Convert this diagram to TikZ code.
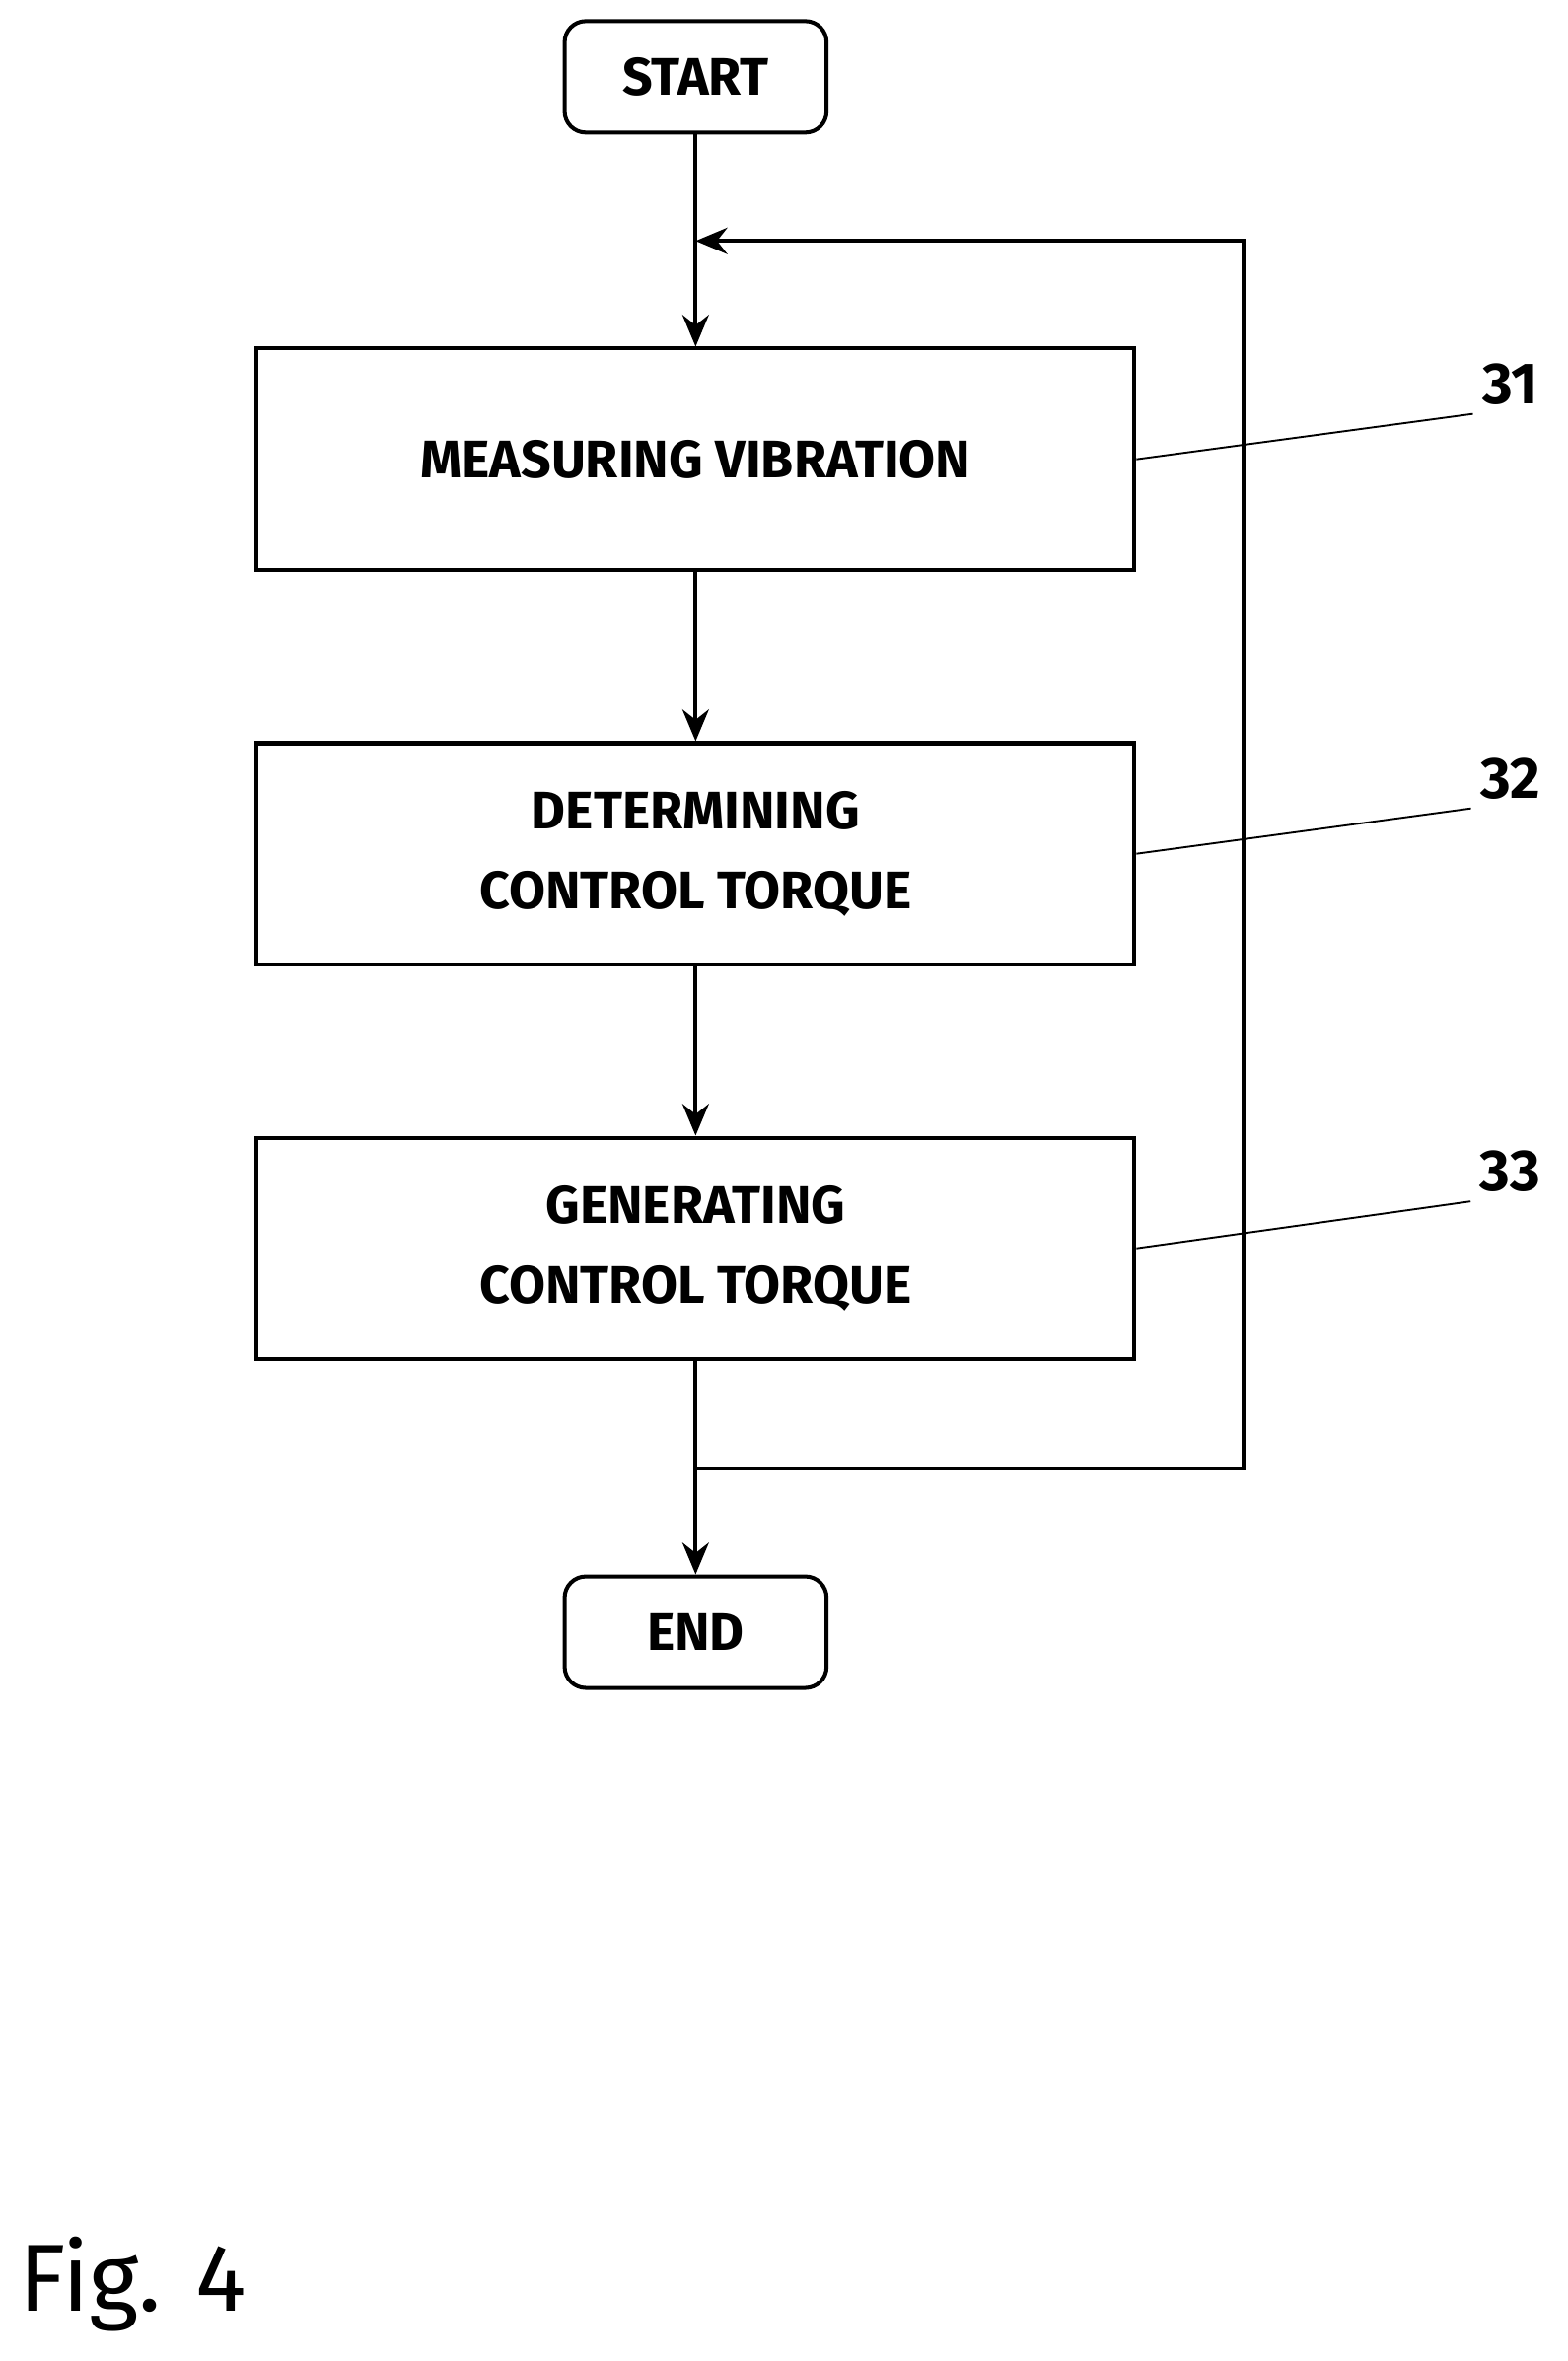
\documentclass[tikz,border=0pt]{standalone}
\usepackage{fontspec}
\setmainfont{Fira Sans}
\usetikzlibrary{arrows.meta,positioning}
\tikzset{
  stepbox/.style={draw,line width=1.5pt,minimum width=11.66cm,minimum height=2.94cm,align=center,font=\fontsize{20}{30}\selectfont\bfseries},
  term/.style={draw,line width=1.5pt,rounded corners=8pt,minimum width=3.48cm,minimum height=1.48cm,font=\fontsize{20}{24}\selectfont\bfseries},
  flow/.style={line width=1.5pt,-{Stealth[length=12pt,width=10pt]}},
  lead/.style={line width=0.7pt},
  refnum/.style={font=\fontsize{22}{24}\selectfont\bfseries}
}
\begin{document}
\begin{tikzpicture}[x=0.02cm,y=-0.02cm]
\useasboundingbox (0,0) rectangle (1041,1568);
\node [term] (start) at (462,51) {START};
\node [stepbox] (measure) at (462,305) {MEASURING VIBRATION};
\node [stepbox] (determine) at (462,567) {DETERMINING\\CONTROL TORQUE};
\node [stepbox] (generate) at (462,829) {GENERATING\\CONTROL TORQUE};
\node [term] (end) at (462,1084) {END};
\coordinate (join) at (462,160);
\coordinate (split) at (462,975);
\draw [line width=1.5pt] (start) -- (join);
\draw [flow] (join) -- (measure);
\draw [flow] (measure) -- (determine);
\draw [flow] (determine) -- (generate);
\draw [line width=1.5pt] (generate) -- (split);
\draw [flow] (split) -- (end);
\draw [flow] (split) -- (826,975) -- (826,160) -- (join);
% reference numerals
\node [refnum] (n31) at (1003,255) {31};
\node [refnum] (n32) at (1003,517) {32};
\node [refnum] (n33) at (1003,778) {33};
\draw [lead] (measure.east) -- (n31.south west);
\draw [lead] (determine.east) -- (n32.south west);
\draw [lead] (generate.east) -- (n33.south west);
\node [font=\fontsize{36}{40}\selectfont] (fig) at (88,1517) {Fig. 4};
\end{tikzpicture}
\end{document}
